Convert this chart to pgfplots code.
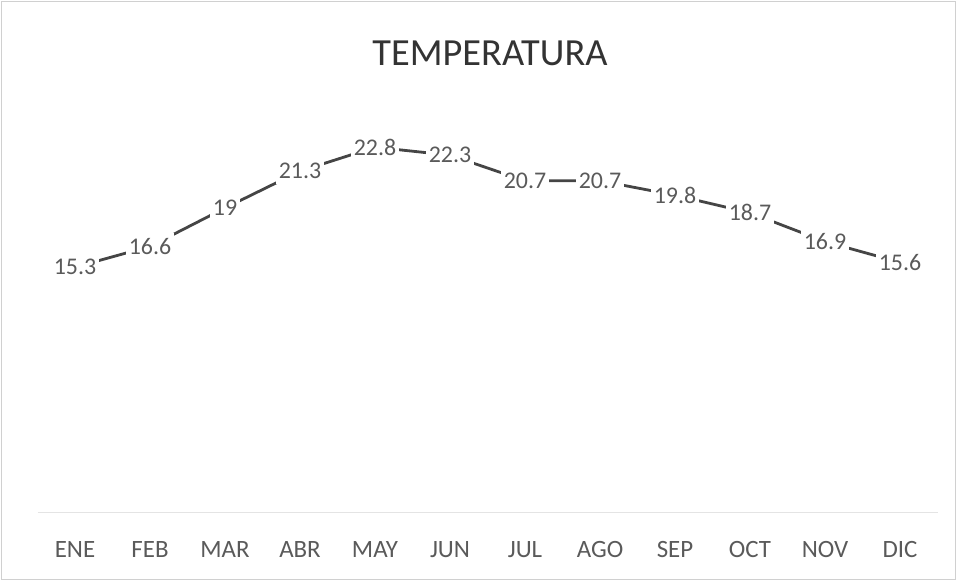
\documentclass[border=0pt]{standalone}
\usepackage{fontspec}
\setmainfont{Carlito}
\usepackage{pgfplots}
\pgfplotsset{compat=1.18}
\definecolor{linegray}{HTML}{454545}
\definecolor{labelgray}{HTML}{5A5A5A}
\definecolor{titlegray}{HTML}{333333}
\definecolor{axisgray}{HTML}{E4E4E4}
\definecolor{bordergray}{HTML}{D0D0D0}
\begin{document}
\begin{tikzpicture}
\useasboundingbox (0,0) rectangle (957bp,581bp);
\draw[bordergray, line width=1bp] (1.5bp,1.5bp) rectangle (955.5bp,579.5bp);
\node[font=\fontsize{38.5}{42}\selectfont, text=titlegray] at (490bp,528bp) {TEMPERATURA};
\begin{axis}[
  at={(37.5bp,69bp)}, anchor=south west,
  scale only axis, width=900bp, height=400bp,
  xmin=-0.5, xmax=11.5, ymin=0, ymax=25,
  axis y line=none,
  axis x line=bottom,
  x axis line style={axisgray, line width=1bp, -},
  xtick={0,...,11},
  xticklabels={ENE,FEB,MAR,ABR,MAY,JUN,JUL,AGO,SEP,OCT,NOV,DIC},
  major tick length=0pt,
  xticklabel style={anchor=center, yshift=-38bp, font=\fontsize{25}{28}\selectfont, text=labelgray},
  clip=false,
  nodes near coords={\pgfmathprintnumber[assume math mode=true]{\pgfplotspointmeta}},
  every node near coord/.append style={anchor=center, fill=white, inner xsep=2.5bp, inner ysep=5bp, font=\fontsize{24}{28}\selectfont, text=labelgray},
]
\addplot[linegray, line width=2.8bp, mark=none] coordinates {
  (0,15.3) (1,16.6) (2,19) (3,21.3) (4,22.8) (5,22.3)
  (6,20.7) (7,20.7) (8,19.8) (9,18.7) (10,16.9) (11,15.6)
};
\end{axis}
\end{tikzpicture}
\end{document}
